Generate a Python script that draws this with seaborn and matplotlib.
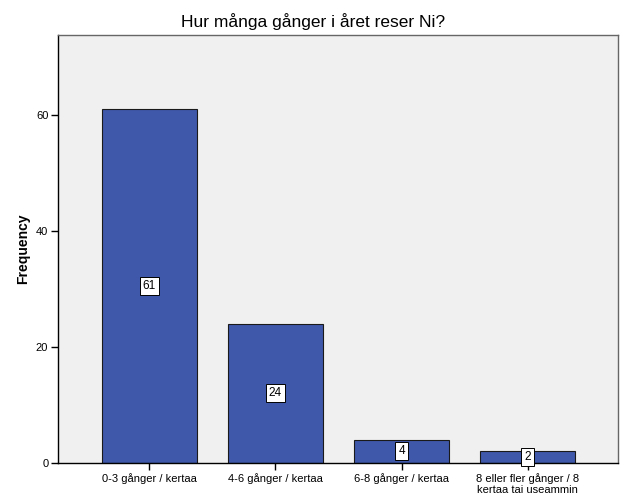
import matplotlib
matplotlib.use("Agg")
import matplotlib.pyplot as plt
import seaborn as sns
import pandas as pd

categories = ["0-3 gånger / kertaa", "4-6 gånger / kertaa", "6-8 gånger / kertaa",
              "8 eller fler gånger / 8\nkertaa tai useammin"]
frequency = [61, 24, 4, 2]
title = "Hur många gånger i året reser Ni?"

sns.set_style("white")
plt.rcParams['font.family'] = ['Liberation Sans', 'DejaVu Sans']
plt.rcParams['text.color'] = 'black'
plt.rcParams['axes.labelcolor'] = 'black'
plt.rcParams['xtick.color'] = 'black'
plt.rcParams['ytick.color'] = 'black'

df = pd.DataFrame({"cat": categories, "freq": frequency})

fig = plt.figure(figsize=(6.26, 5.01), dpi=100)
ax = fig.add_axes([58/626, 38/501, 560/626, 428/501])
ax.set_facecolor("#F0F0F0")
sns.barplot(data=df, x="cat", y="freq", color="#3F58A9", saturation=1,
            width=0.754, edgecolor="#1a1a1a", linewidth=0.8, ax=ax)

for i, v in enumerate(frequency):
    ax.text(i, v / 2, str(v), ha="center", va="center", fontsize=8.5,
            bbox=dict(boxstyle="square,pad=0.25", fc="white", ec="black", lw=0.7))

ax.set_xlim(-0.726, 3.718)
ax.set_ylim(0, 73.8)
ax.set_yticks([0, 20, 40, 60])
ax.set_xlabel("")
ax.set_ylabel("Frequency", fontsize=10, fontweight="bold", labelpad=4)
fig.text(313/626, 1 - 22/501, title, ha="center", va="center", fontsize=12.5)
ax.tick_params(axis="both", labelsize=8, length=5, width=1, color="black", direction="out",
               left=True, bottom=True, pad=2)
for s in ["left", "bottom"]:
    ax.spines[s].set_color("black")
    ax.spines[s].set_linewidth(1)
for s in ["top", "right"]:
    ax.spines[s].set_color("#666666")
    ax.spines[s].set_linewidth(1)

fig.savefig("out.png", dpi=100)
